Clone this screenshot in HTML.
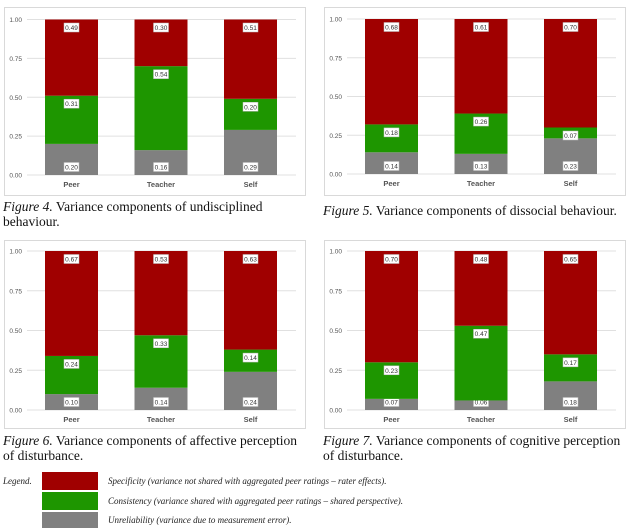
<!DOCTYPE html>
<html><head><meta charset="utf-8"><style>
body{margin:0;background:#fff;width:640px;height:526px;overflow:hidden;position:relative;font-family:"Liberation Serif",serif}
svg{position:absolute;left:0;top:0}
.cap{position:absolute;font-size:13.5px;line-height:15px;color:#111}
.leg{position:absolute;font-size:9px;font-style:italic;color:#222}
.sw{position:absolute;left:42px;width:56px;height:18px}
</style></head><body>
<svg id="chart" width="640" height="526"></svg>
<div class="cap" style="left:3px;top:199px;width:300px"><i>Figure 4.</i> Variance components of undisciplined behaviour.</div>
<div class="cap" style="left:323px;top:203px;width:310px"><i>Figure 5.</i> Variance components of dissocial behaviour.</div>
<div class="cap" style="left:3px;top:433px;width:300px"><i>Figure 6.</i> Variance components of affective perception of disturbance.</div>
<div class="cap" style="left:323px;top:433px;width:310px"><i>Figure 7.</i> Variance components of cognitive perception of disturbance.</div>
<div class="leg" style="left:3px;top:476px">Legend.</div>
<div class="sw" style="top:472px;background:#a00000"></div>
<div class="sw" style="top:492px;background:#1e9600"></div>
<div class="sw" style="top:512px;background:#808080;height:16px"></div>
<div class="leg" style="left:108px;top:476px">Specificity (variance not shared with aggregated peer ratings – rater effects).</div>
<div class="leg" style="left:108px;top:496px">Consistency (variance shared with aggregated peer ratings – shared perspective).</div>
<div class="leg" style="left:108px;top:515px">Unreliability (variance due to measurement error).</div>
<script>
const categories=["Peer","Teacher","Self"];
const ticks=[0,0.25,0.5,0.75,1];
const fig4Unrel=[0.20,0.16,0.29], fig4Cons=[0.31,0.54,0.20], fig4Spec=[0.49,0.30,0.51];
const fig5Unrel=[0.14,0.13,0.23], fig5Cons=[0.18,0.26,0.07], fig5Spec=[0.68,0.61,0.70];
const fig6Unrel=[0.10,0.14,0.24], fig6Cons=[0.24,0.33,0.14], fig6Spec=[0.67,0.53,0.63];
const fig7Unrel=[0.07,0.06,0.18], fig7Cons=[0.23,0.47,0.17], fig7Spec=[0.70,0.48,0.65];
const panels=[
 {x:4,y:7,top:19.5,bot:175,u:fig4Unrel,c:fig4Cons,s:fig4Spec,n:"figure-4"},
 {x:324,y:7,top:19,bot:174,u:fig5Unrel,c:fig5Cons,s:fig5Spec,n:"figure-5"},
 {x:4,y:240,top:251,bot:410,u:fig6Unrel,c:fig6Cons,s:fig6Spec,n:"figure-6"},
 {x:324,y:240,top:251,bot:410,u:fig7Unrel,c:fig7Cons,s:fig7Spec,n:"figure-7"}];
const svg=document.getElementById('chart');
const NS="http://www.w3.org/2000/svg";
function mk(t,a,p){const e=document.createElementNS(NS,t);for(const k in a)e.setAttribute(k,a[k]);(p||svg).appendChild(e);return e;}
panels.forEach(p=>{
 const g=mk('g',{});
 
 
 mk('rect',{x:p.x+0.5,y:p.y+0.5,width:301,height:188,fill:'#fff',stroke:'#d9d9d9'},g);
 const yS=v=>p.bot-(p.bot-p.top)*v;
 const xS=i=>p.x+41+i*89.5;
 ticks.forEach(t=>{
  mk('line',{x1:p.x+23,x2:p.x+292,y1:yS(t),y2:yS(t),stroke:'#e0e0e0','stroke-width':1},g);
  const tx=mk('text',{x:p.x+18,y:yS(t)+2.5,'font-size':6.5,'text-anchor':'end',fill:'#555','font-family':'Liberation Sans,sans-serif'},g);
  tx.textContent=t.toFixed(2);
  
  
 });
 categories.forEach((c,i)=>{
  const segs=[[p.u[i],'#808080','unreliability'],[p.c[i],'#1e9600','consistency'],[p.s[i],'#a00000','specificity']];
  let base=0;
  segs.forEach((sg,k)=>{
   const v=sg[0];let y0=yS(base),y1=yS(Math.min(1,base+v));
   const r=mk('rect',{x:xS(i),y:y1,width:53,height:Math.max(0,y0-y1),fill:sg[1]},g);
   
   
   const ly=k===0?y0-8:y1+8;
   mk('rect',{x:xS(i)+19,y:ly-4.5,width:15,height:9,fill:'#fff',stroke:'#bbb','stroke-width':0.5},g);
   const lt=mk('text',{x:xS(i)+26.5,y:ly+2.5,'font-size':6.5,'text-anchor':'middle',fill:'#333','font-family':'Liberation Sans,sans-serif'},g);
   lt.textContent=v.toFixed(2);
   
   
   base+=v;
  });
  const ct=mk('text',{x:xS(i)+26.5,y:p.bot+12,'font-size':7.5,'font-weight':'bold','text-anchor':'middle',fill:'#555','font-family':'Liberation Sans,sans-serif'},g);
  ct.textContent=c;
  
  
 });
});
</script>
</body></html>
